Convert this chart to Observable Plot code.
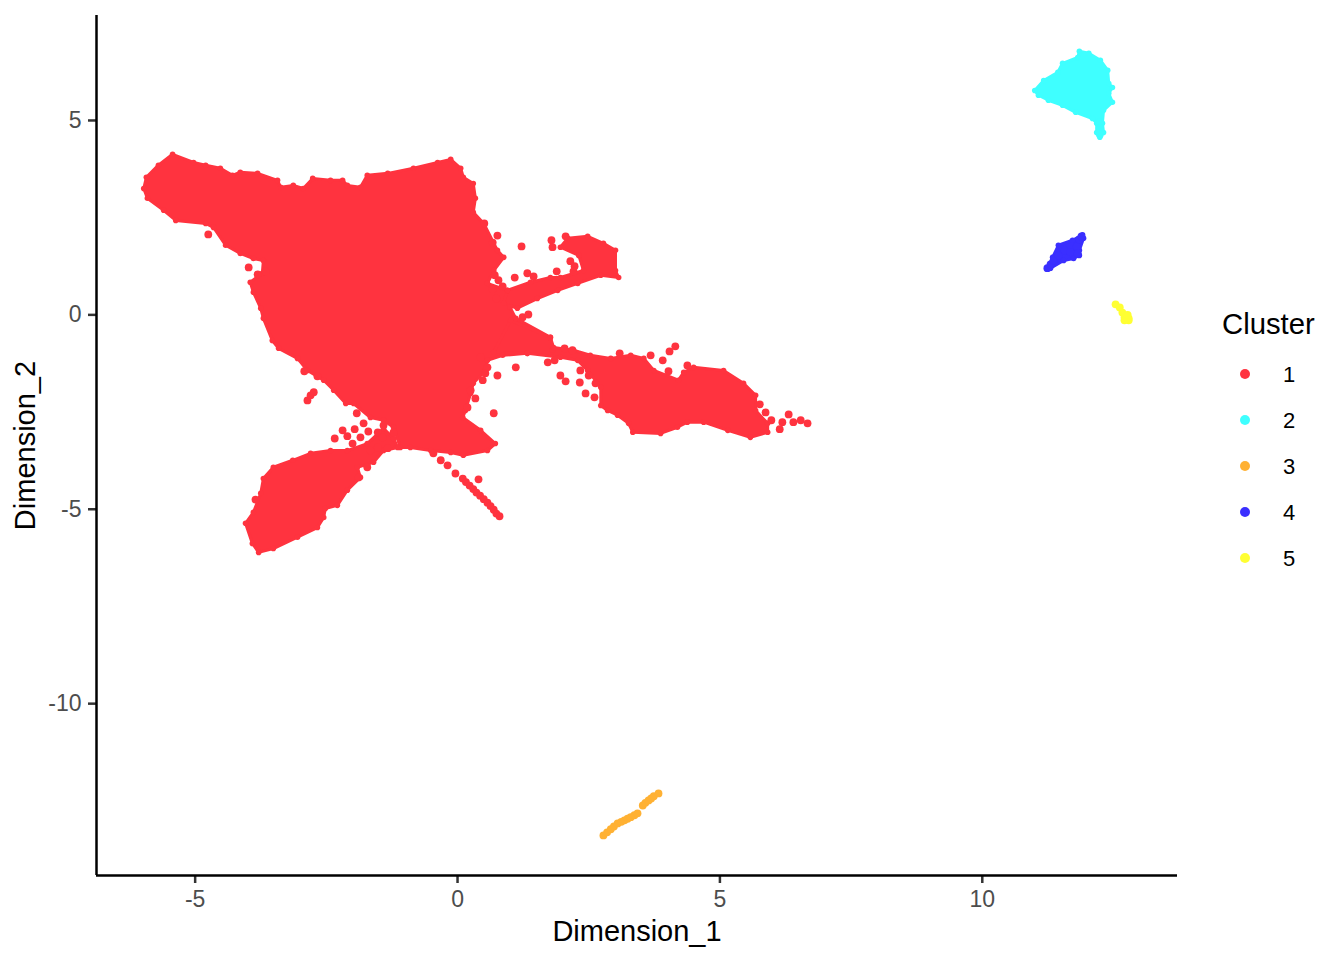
<!DOCTYPE html>
<html><head><meta charset="utf-8">
<script src="https://cdn.jsdelivr.net/npm/d3@7"></script>
<script src="https://cdn.jsdelivr.net/npm/@observablehq/plot@0.6"></script>
<style>
html,body{margin:0;padding:0;background:#fff;font-family:"Liberation Sans",Arial,sans-serif}
#wrap{position:relative;width:1344px;height:960px;overflow:hidden}
#legend{position:absolute;left:0;top:0;width:1344px;height:960px;pointer-events:none}
#legend .t{position:absolute;left:1222px;top:307px;font-size:29.3px;line-height:34px;color:#000}
#legend .k{position:absolute;width:10px;height:10px;border-radius:50%;left:1240px}
#legend .l{position:absolute;left:1283px;font-size:22px;line-height:26px;color:#000}
</style></head><body><div id="wrap"><div id="chart"></div><div id="legend"></div></div>
<script>
const clusters = ["1","2","3","4","5"];
const clusterColors = ["#FF333F","#3FFFFF","#FFB133","#3A2FFF","#FFFF33"];
const xDomain = [-6.88,13.72];
const yDomain = [-14.42,7.70];
const xTicks = [-5,0,5,10];
const yTicks = [-10,-5,0,5];

const bodyOutline = [[-5.98,3.25],[-5.93,3.54],[-5.70,3.85],[-5.43,4.13],[-5.03,3.92],[-4.80,3.85],[-4.52,3.77],[-4.29,3.59],[-4.14,3.67],[-3.81,3.64],[-3.43,3.46],[-3.37,3.28],[-3.13,3.33],[-2.94,3.25],[-2.76,3.51],[-2.42,3.46],[-2.19,3.46],[-2.10,3.33],[-1.85,3.28],[-1.72,3.59],[-1.33,3.64],[-0.84,3.77],[-0.38,3.92],[-0.13,4.00],[0.06,3.77],[0.11,3.54],[0.30,3.38],[0.34,3.00],[0.30,2.64],[0.50,2.35],[0.76,1.66],[0.88,1.48],[0.69,1.14],[0.57,0.81],[0.95,0.63],[1.00,0.20],[1.11,-0.09],[1.77,-0.58],[1.81,-0.91],[1.33,-0.99],[0.86,-1.04],[0.57,-1.17],[0.53,-1.43],[0.30,-1.76],[0.25,-2.02],[0.15,-2.46],[0.10,-2.64],[0.44,-2.97],[0.72,-3.31],[0.57,-3.49],[0.11,-3.61],[-0.13,-3.54],[-0.51,-3.49],[-0.90,-3.41],[-1.09,-3.41],[-1.22,-2.89],[-1.41,-2.71],[-1.66,-2.64],[-1.98,-2.28],[-2.13,-2.28],[-2.36,-1.94],[-2.55,-1.68],[-2.86,-1.43],[-3.05,-1.12],[-3.41,-0.86],[-3.53,-0.66],[-3.70,-0.09],[-3.75,0.17],[-3.89,0.58],[-3.95,0.84],[-3.72,1.07],[-3.70,1.40],[-3.89,1.45],[-4.14,1.58],[-4.42,1.79],[-4.65,2.25],[-4.80,2.35],[-5.37,2.43],[-5.60,2.69],[-5.91,3.00]];
const upperArmOutline = [[0.88,0.30],[0.95,0.63],[1.39,0.84],[1.77,0.96],[1.96,0.96],[2.40,1.14],[2.31,1.53],[1.96,1.74],[2.10,1.97],[2.48,2.02],[2.78,1.84],[3.01,1.66],[3.01,1.14],[3.07,0.96],[2.73,1.02],[2.29,0.81],[1.91,0.63],[1.52,0.42],[1.14,0.17]];
const lowerArmOutline = [[1.01,-0.14],[1.77,-0.58],[1.83,-0.84],[2.21,-0.91],[2.53,-1.04],[2.92,-1.12],[3.30,-1.04],[3.55,-1.12],[3.74,-1.43],[4.21,-1.68],[4.31,-1.48],[4.50,-1.35],[5.07,-1.43],[5.45,-1.76],[5.68,-2.07],[5.68,-2.46],[5.91,-2.79],[5.91,-3.02],[5.58,-3.15],[5.15,-2.97],[4.69,-2.76],[4.38,-2.76],[4.19,-2.89],[3.87,-3.05],[3.34,-3.02],[3.26,-2.79],[3.05,-2.58],[2.86,-2.46],[2.73,-2.33],[2.73,-1.86],[2.48,-1.43],[2.29,-1.17],[1.96,-1.09],[1.33,-0.99],[0.69,-0.96]];
const lowerLobeOutline = [[-4.04,-5.36],[-3.89,-5.08],[-3.75,-4.59],[-3.70,-4.21],[-3.51,-3.92],[-3.14,-3.74],[-2.80,-3.56],[-2.42,-3.49],[-2.10,-3.49],[-1.72,-3.31],[-1.41,-2.92],[-1.22,-3.18],[-1.14,-3.41],[-1.41,-3.49],[-1.60,-3.79],[-1.91,-3.92],[-1.85,-4.18],[-2.10,-4.51],[-2.29,-4.90],[-2.52,-4.98],[-2.55,-5.21],[-2.67,-5.47],[-3.05,-5.72],[-3.51,-6.01],[-3.79,-6.11],[-3.91,-5.88]];
const cyanOutline = [[11.00,5.77],[11.17,6.03],[11.44,6.24],[11.53,6.47],[11.82,6.62],[11.85,6.78],[12.03,6.73],[12.25,6.55],[12.39,6.29],[12.41,5.95],[12.48,5.85],[12.41,5.70],[12.48,5.47],[12.31,5.26],[12.29,4.93],[12.31,4.69],[12.24,4.57],[12.18,4.69],[12.18,4.93],[12.10,5.05],[11.78,5.21],[11.53,5.39],[11.26,5.52],[11.07,5.65]];
const blueOutline = [[11.24,1.20],[11.34,1.48],[11.45,1.79],[11.72,1.92],[11.91,2.06],[11.93,1.97],[11.85,1.66],[11.85,1.53],[11.74,1.45],[11.55,1.40],[11.30,1.20]];

const looseRed = [[1.22,1.76],[1.79,1.92],[1.81,1.74],[2.06,2.02],[2.15,1.38],[2.23,1.25],[2.21,1.12],[1.89,1.12],[1.09,0.96],[1.33,1.07],[1.45,0.99],[0.76,2.04],[0.67,1.86],[0.51,2.35],[0.71,1.02],[0.78,0.89],[0.86,0.73],[0.67,0.66],[0.74,0.42],[1.24,-0.06],[1.35,0.01],
[3.09,-0.99],[4.15,-0.81],[4.04,-0.94],[3.68,-1.04],[3.91,-1.17],[4.02,-1.45],[4.38,-1.30],[1.96,-1.56],[2.06,-1.71],[2.33,-1.74],[2.44,-2.02],[2.61,-2.12],[1.72,-1.22],[1.85,-1.17],[2.04,-0.86],[2.19,-0.91],[2.34,-1.43],[2.50,-1.56],[2.63,-1.76],[1.11,-1.35],[0.76,-1.56],[0.69,-2.53],[0.34,-2.15],[0.44,-1.09],[0.57,-1.35],[0.53,-1.50],[0.48,-1.68],[0.25,-1.94],[0.19,-2.38],
[5.76,-2.30],[5.87,-2.51],[5.98,-2.71],[6.14,-2.94],[6.19,-2.76],[6.31,-2.56],[6.40,-2.76],[6.54,-2.71],[6.67,-2.79],
[-3.85,-4.75],[-2.86,-2.20],[-2.80,-2.07],[-2.74,-1.99],[-1.92,-2.53],[-1.79,-2.79],[-1.96,-2.94],[-2.19,-2.97],[-2.34,-3.18],[-2.10,-3.12],[-2.00,-3.31],[-1.70,-3.00],[-1.52,-3.02],[-1.85,-3.15],[-1.72,-3.92],[-1.89,-4.18],[0.40,-4.23],[-2.92,-1.45],[-2.67,-1.58],
[-1.66,-3.49],[-1.33,-3.43],[-1.52,-3.41],[-1.43,-3.15],[-1.22,-3.02],[-1.41,-2.84],
[-4.75,2.07],[-3.98,1.22],[-3.66,1.12],[-3.81,1.04],
[-0.46,-3.56],[-0.32,-3.74],[-0.19,-3.87],[-0.04,-4.08],[0.10,-4.21],[0.16,-4.30],[0.23,-4.39],[0.30,-4.48],[0.36,-4.57],[0.43,-4.65],[0.50,-4.74],[0.57,-4.83],[0.63,-4.92],[0.69,-5.01],[0.74,-5.11],[0.80,-5.18]];
const looseCyan = [[12.24,4.95],[12.24,4.80],[12.24,4.64]];
const looseOrange = [[2.78,-13.39],[2.85,-13.31],[2.92,-13.23],[2.98,-13.16],[3.05,-13.08],[3.12,-13.04],[3.18,-13.00],[3.24,-12.96],[3.30,-12.92],[3.37,-12.87],[3.43,-12.82],[3.53,-12.62],[3.58,-12.55],[3.64,-12.49],[3.69,-12.44],[3.74,-12.38],[3.83,-12.31]];
const looseBlue = [[11.24,1.20],[11.30,1.30],[11.36,1.40],[11.45,1.53],[11.57,1.66],[11.68,1.61],[11.80,1.76],[11.85,1.94],[11.89,2.02],[11.82,1.58]];
const looseYellow = [[12.54,0.27],[12.62,0.19],[12.67,0.06],[12.71,-0.07],[12.79,-0.09],[12.79,-0.14],[12.71,-0.14],[12.77,0.00]];

const regions = [
  {name:"body",cluster:"1",pts:bodyOutline},
  {name:"upperArm",cluster:"1",pts:upperArmOutline},
  {name:"lowerArm",cluster:"1",pts:lowerArmOutline},
  {name:"lowerLobe",cluster:"1",pts:lowerLobeOutline},
  {name:"cyan",cluster:"2",pts:cyanOutline},
  {name:"blue",cluster:"4",pts:blueOutline}
];
const outlineRows = regions.flatMap(r => r.pts.map(([x,y]) => ({x,y,region:r.name,cluster:r.cluster})));
const loose = [["1",looseRed],["2",looseCyan],["3",looseOrange],["4",looseBlue],["5",looseYellow]];
const looseRows = loose.flatMap(([cluster,pts]) => pts.map(([x,y]) => ({x,y,cluster})));

const font = '"Liberation Sans",Arial,sans-serif';
const chart = Plot.plot({
  width:1344,height:960,
  marginLeft:96,marginRight:167,marginTop:15,marginBottom:85,
  style:{fontFamily:font,background:"#fff"},
  x:{domain:xDomain,label:null},
  y:{domain:yDomain,label:null},
  color:{domain:clusters,range:clusterColors},
  marks:[
    Plot.line(outlineRows,{x:"x",y:"y",z:"region",fill:"cluster",stroke:"cluster",strokeWidth:3,strokeLinejoin:"round",curve:"linear-closed"}),
    Plot.dot(outlineRows,{x:"x",y:"y",fill:"cluster",r:2.8}),
    Plot.dot(looseRows,{x:"x",y:"y",fill:"cluster",r:3.9}),
    Plot.axisX({ticks:xTicks,tickFormat:d=>String(d),label:null,tickSize:8,tickPadding:7,fontSize:23,stroke:"#333",fill:"#4D4D4D",strokeWidth:2.5}),
    Plot.axisY({ticks:yTicks,tickFormat:d=>String(d),label:null,tickSize:8,tickPadding:7,fontSize:23,stroke:"#333",fill:"#4D4D4D",strokeWidth:2.5}),
    Plot.ruleX([xDomain[0]],{stroke:"#000",strokeWidth:2.5}),
    Plot.ruleY([yDomain[0]],{stroke:"#000",strokeWidth:2.5}),
    Plot.text(["Dimension_1"],{frameAnchor:"bottom",dy:56,fontSize:29,fill:"#000",lineAnchor:"middle"}),
    Plot.text(["Dimension_2"],{frameAnchor:"left",dx:-71,rotate:-90,textAnchor:"middle",fontSize:29,fill:"#000"})
  ]
});
document.getElementById("chart").appendChild(chart);

const legend = document.getElementById("legend");
const title = document.createElement("div");
title.className="t"; title.textContent="Cluster"; legend.appendChild(title);
const keyY = d3.scalePoint().domain(clusters).range([374,558]);
clusters.forEach((c,i)=>{
  const k=document.createElement("div");k.className="k";k.style.top=(keyY(c)-5)+"px";k.style.background=clusterColors[i];legend.appendChild(k);
  const l=document.createElement("div");l.className="l";l.style.top=(keyY(c)-12)+"px";l.textContent=c;legend.appendChild(l);
});
</script></body></html>
